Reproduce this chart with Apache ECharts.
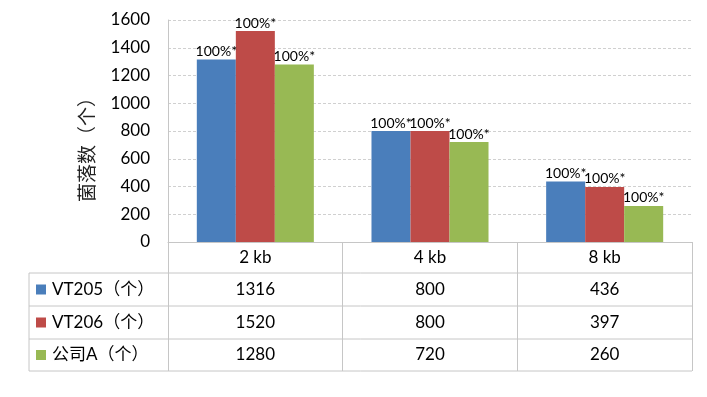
<!DOCTYPE html>
<html style="height: 100%">
<head>
<meta charset="utf-8">
</head>
<body style="height: 100%; margin: 0; background: #fff">
<div id="container" style="width: 707px; height: 397px"></div>
<script type="text/javascript" src="https://cdn.jsdelivr.net/npm/echarts@6/dist/echarts.min.js"></script>
<script type="text/javascript">
var categories = ['2 kb', '4 kb', '8 kb'];
var seriesNames = ['VT205（个）', 'VT206（个）', '公司A（个）'];
var vt205 = [1316, 800, 436];
var vt206 = [1520, 800, 397];
var companyA = [1280, 720, 260];
var barLabels = ['100%*', '100%*', '100%*'];
var yTicks = [0, 200, 400, 600, 800, 1000, 1200, 1400, 1600];

var colors = ['#4A7EBB', '#BE4B48', '#98B954'];
var font = 'Lato, "Noto Sans CJK SC", sans-serif';
var lineColor = '#C6C6C6';

var dom = document.getElementById('container');
var myChart = echarts.init(dom);

var seriesData = [vt205, vt206, companyA];

var option = {
    animation: false,
    textStyle: { fontFamily: font },
    grid: { left: 168, right: 15, top: 20, bottom: 155, containLabel: false },
    xAxis: {
        type: 'category',
        data: categories,
        axisLine: { lineStyle: { color: lineColor } },
        axisTick: { show: true, length: 129, interval: 0, lineStyle: { color: lineColor } },
        axisLabel: { color: '#000', fontSize: 17, margin: 7, fontFamily: font }
    },
    yAxis: {
        type: 'value',
        min: yTicks[0],
        max: yTicks[yTicks.length - 1],
        interval: 200,
        axisLine: { show: true, lineStyle: { color: lineColor } },
        axisTick: { show: false },
        axisLabel: {
            color: '#000', fontSize: 17, margin: 18, fontFamily: font,
            formatter: function (v) { return String(v); }
        },
        splitLine: { lineStyle: { color: '#D0D0D0', type: [3, 2] } }
    },
    series: seriesData.map(function (vals, i) {
        return {
            type: 'bar',
            name: seriesNames[i],
            data: vals,
            barGap: 0,
            barCategoryGap: '33%',
            itemStyle: { color: colors[i] },
            label: {
                show: true,
                position: 'top',
                distance: 1,
                color: '#000',
                fontSize: 14,
                fontFamily: font,
                formatter: function (p) { return barLabels[p.dataIndex]; }
            }
        };
    })
};

myChart.setOption(option);

// data table under the plot
var rowLines = [273, 306, 339, 371];
var tableLeft = 29, tableRight = 692;
var graphics = [];
rowLines.forEach(function (y) {
    graphics.push({
        type: 'line',
        shape: { x1: tableLeft, y1: y, x2: tableRight, y2: y },
        style: { stroke: lineColor, lineWidth: 1 }
    });
});
graphics.push({
    type: 'line',
    shape: { x1: tableLeft, y1: rowLines[0], x2: tableLeft, y2: rowLines[3] },
    style: { stroke: lineColor, lineWidth: 1 }
});
seriesNames.forEach(function (name, i) {
    var cy = (rowLines[i] + rowLines[i + 1]) / 2;
    graphics.push({
        type: 'rect',
        shape: { x: 36, y: cy - 5, width: 10, height: 10 },
        style: { fill: colors[i] }
    });
    graphics.push({
        type: 'text',
        x: 52, y: cy,
        style: { text: name, fontSize: 17, fontFamily: font, fill: '#000', verticalAlign: 'middle', align: 'left' }
    });
    categories.forEach(function (c, j) {
        var cx = myChart.convertToPixel({ xAxisIndex: 0 }, c);
        graphics.push({
            type: 'text',
            x: cx, y: cy,
            style: { text: String(seriesData[i][j]), fontSize: 17, fontFamily: font, fill: '#000', align: 'center', verticalAlign: 'middle' }
        });
    });
});
graphics.push({
    type: 'text',
    x: 88, y: 145,
    rotation: Math.PI / 2,
    style: { text: '菌落数（个）', fontSize: 19, fontFamily: font, fill: '#222', align: 'center', verticalAlign: 'middle' }
});

myChart.setOption({ graphic: graphics });
</script>
</body>
</html>
